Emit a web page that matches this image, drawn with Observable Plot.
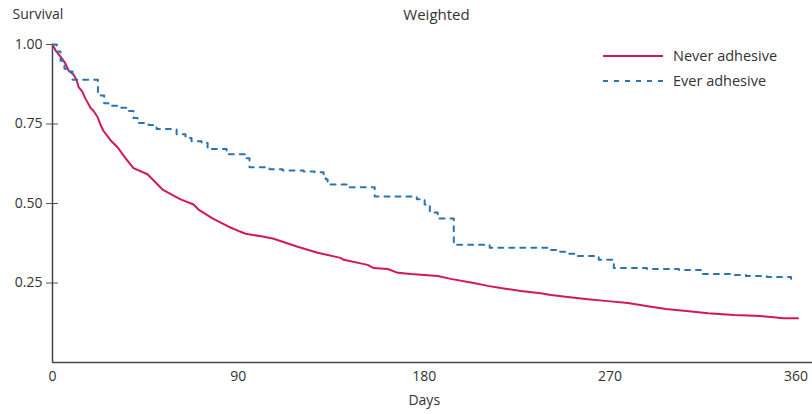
<!DOCTYPE html>
<html>
<head>
<meta charset="utf-8">
<script src="https://cdn.jsdelivr.net/npm/d3@7"></script>
<script src="https://cdn.jsdelivr.net/npm/@observablehq/plot@0.6"></script>
<style>
  body { margin: 0; background: #fff; }
  #wrap { position: relative; width: 812px; height: 414px; font-family: "Open Sans", sans-serif; color: #333; }
  #legend { position: absolute; left: 603px; top: 43px; font-size: 14.5px; }
  .row { display: flex; align-items: center; height: 25px; }
  .row svg { margin-right: 10px; }
</style>
</head>
<body>
<div id="wrap"><div id="legend"></div></div>
<script>
const title = "Weighted";
const yLabel = "Survival";
const xLabel = "Days";
const seriesNames = ["Never adhesive", "Ever adhesive"];
const seriesColors = ["#d4175c", "#2c73b1"];
const xTicks = [0, 90, 180, 270, 360];
const yTicks = [0.25, 0.5, 0.75, 1.0];

const neverDays = [0, 1.5, 3.9, 6.3, 7.8, 10.2, 11.6, 12.6, 14.5, 16.0, 18.4, 19.9, 21.8, 23.3, 24.7, 28.1, 31.5, 35.4, 39.2, 46.0, 53.3, 62.0, 68.3, 70.7, 77.5, 82.4, 85.3, 91.1, 93.5, 101.7, 107.1, 118.7, 128.4, 139.5, 141.0, 152.6, 155.5, 162.3, 167.2, 173.5, 186.5, 192.8, 204.0, 210.8, 217.1, 226.8, 236.4, 241.3, 249.5, 259.2, 268.9, 278.6, 288.3, 297.0, 308.2, 317.4, 330.0, 343.0, 349.3, 353.7, 361.0];
const neverSurv = [1.000, 0.981, 0.962, 0.940, 0.918, 0.905, 0.889, 0.867, 0.851, 0.829, 0.801, 0.791, 0.772, 0.747, 0.728, 0.699, 0.677, 0.642, 0.611, 0.592, 0.544, 0.513, 0.497, 0.481, 0.453, 0.437, 0.427, 0.411, 0.405, 0.396, 0.389, 0.364, 0.345, 0.329, 0.323, 0.307, 0.297, 0.294, 0.282, 0.278, 0.272, 0.263, 0.250, 0.241, 0.234, 0.225, 0.218, 0.212, 0.206, 0.199, 0.193, 0.187, 0.177, 0.168, 0.161, 0.155, 0.149, 0.146, 0.142, 0.139, 0.139];

const everDays = [0, 1.9, 3.9, 5.8, 6.8, 9.7, 22.0, 25.0, 27.1, 32.0, 36.3, 39.2, 41.2, 46.5, 50.4, 60.1, 64.4, 67.3, 72.2, 75.1, 84.3, 94.0, 95.4, 105.1, 111.4, 121.6, 126.9, 131.3, 132.3, 133.2, 142.4, 156.0, 176.4, 180.2, 182.7, 186.5, 194.3, 211.7, 240.3, 244.2, 249.0, 253.9, 264.5, 271.8, 287.8, 303.3, 313.9, 329.1, 335.8, 345.9, 357.6, 358.5];
const everSurv = [1.000, 0.978, 0.949, 0.924, 0.915, 0.889, 0.840, 0.815, 0.807, 0.801, 0.791, 0.769, 0.753, 0.747, 0.734, 0.718, 0.706, 0.696, 0.690, 0.671, 0.655, 0.642, 0.614, 0.608, 0.604, 0.601, 0.598, 0.589, 0.576, 0.560, 0.551, 0.522, 0.513, 0.497, 0.472, 0.453, 0.370, 0.361, 0.354, 0.348, 0.342, 0.335, 0.323, 0.297, 0.294, 0.291, 0.278, 0.275, 0.272, 0.269, 0.263, 0.263];

const never = neverDays.map((d, i) => ({day: d, surv: neverSurv[i]}));
const ever = everDays.map((d, i) => ({day: d, surv: everSurv[i]}));

const chart = Plot.plot({
  width: 812,
  height: 414,
  marginTop: 44,
  marginBottom: 52,
  marginLeft: 52,
  marginRight: 0,
  style: {fontFamily: "Open Sans, sans-serif", fontSize: "14px", color: "#333", background: "#fff"},
  x: {domain: [0, 368]},
  y: {domain: [0, 1]},
  marks: [
    Plot.axisX({ticks: xTicks, tickSize: 0, tickPadding: 9, label: null, fontSize: 14}),
    Plot.axisY({ticks: yTicks, tickSize: 6, tickPadding: 4, tickFormat: d3.format(".2f"), label: null, stroke: "#555", fontSize: 14}),
    Plot.axisY({ticks: yTicks, tickSize: 6, dx: 6, tickFormat: () => "", label: null, stroke: "#555"}),
    Plot.ruleX([0], {stroke: "#444", strokeWidth: 1.5}),
    Plot.ruleY([0], {stroke: "#444", strokeWidth: 1.5}),
    Plot.line(never, {x: "day", y: "surv", curve: "linear", stroke: seriesColors[0], strokeWidth: 2}),
    Plot.line(ever, {x: "day", y: "surv", curve: "step-after", stroke: seriesColors[1], strokeWidth: 2, strokeDasharray: "5,6"}),
    Plot.text([title], {text: d => d, frameAnchor: "top", lineAnchor: "middle", dx: 4, dy: -29, fontSize: 15}),
    Plot.text([yLabel], {text: d => d, frameAnchor: "top-left", textAnchor: "start", lineAnchor: "middle", dx: -40, dy: -30, fontSize: 14}),
    Plot.text([xLabel], {text: d => d, x: () => 180, frameAnchor: "bottom", lineAnchor: "middle", dy: 38, fontSize: 14})
  ]
});
const wrap = document.getElementById("wrap");
wrap.insertBefore(chart, wrap.firstChild);

const legend = d3.select("#legend");
seriesNames.forEach((name, i) => {
  const row = legend.append("div").attr("class", "row");
  const svg = row.append("svg").attr("width", 60).attr("height", 10);
  svg.append("line").attr("x1", 0).attr("x2", 60).attr("y1", 5).attr("y2", 5)
    .attr("stroke", seriesColors[i]).attr("stroke-width", 2)
    .attr("stroke-dasharray", i === 1 ? "5,6" : null);
  row.append("span").text(name);
});
</script>
</body>
</html>
